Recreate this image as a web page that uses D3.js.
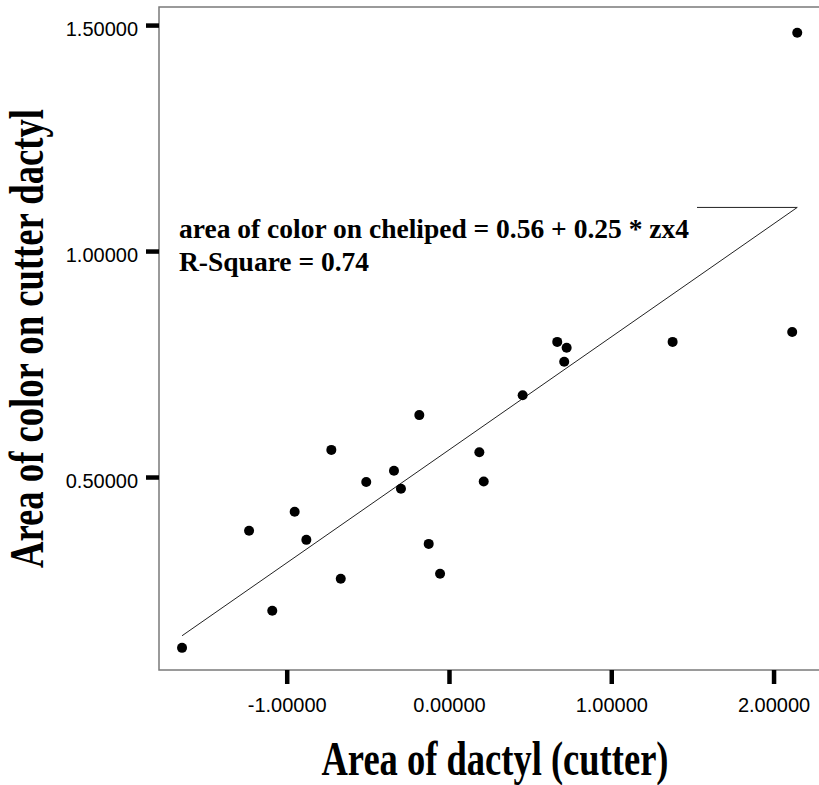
<!DOCTYPE html>
<html>
<head>
<meta charset="utf-8">
<script src="https://cdn.jsdelivr.net/npm/d3@7"></script>
<style>
  html, body { margin: 0; padding: 0; background: #fff; }
  svg { display: block; }
</style>
</head>
<body>
<svg id="chart" width="819" height="785"></svg>
<script>
// Standardised dactyl area (zx4) against area of colour on the cutter dactyl
const dactylArea = [-1.645, -1.089, -1.232, -0.951, -0.879, -0.725, -0.667, -0.510, -0.339, -0.296,
                    -0.183, -0.125, -0.055, 0.187, 0.214, 0.454, 0.667, 0.725, 0.710, 1.378, 2.115, 2.146];
const colorArea  = [0.122, 0.204, 0.381, 0.423, 0.361, 0.560, 0.275, 0.489, 0.514, 0.474,
                    0.637, 0.352, 0.286, 0.555, 0.490, 0.681, 0.799, 0.786, 0.755, 0.799, 0.821, 1.483];

// Linear fit reported in the annotation
const intercept = 0.56;
const slope = 0.25;
const rSquare = 0.74;

const xTicks = [-1, 0, 1, 2];
const yTicks = [0.5, 1.0, 1.5];
const xDomain = [-1.787, 2.354];
const yDomain = [0.073, 1.540];

const xTitle = "Area of dactyl (cutter)";
const yTitle = "Area of color on cutter dactyl";
const fitLabel = `area of color on cheliped = ${intercept.toFixed(2)} + ${slope.toFixed(2)} * zx4`;
const rsqLabel = `R-Square = ${rSquare.toFixed(2)}`;

const svg = d3.select("#chart");
const plot = { left: 159, right: 831, top: 7, bottom: 670 };

const x = d3.scaleLinear().domain(xDomain).range([plot.left, plot.right]);
const y = d3.scaleLinear().domain(yDomain).range([plot.bottom, plot.top]);
const fmt = v => v.toFixed(5);

const sans = "'Liberation Sans', Arial, sans-serif";
const serif = "'Liberation Serif', 'Times New Roman', serif";

// Plot frame
svg.append("rect")
  .attr("x", plot.left).attr("y", plot.top)
  .attr("width", plot.right - plot.left).attr("height", plot.bottom - plot.top)
  .attr("fill", "none").attr("stroke", "#7a7a7a").attr("stroke-width", 1.5);

// Axes: heavy short ticks outside the frame
const xAxis = svg.append("g")
  .attr("transform", `translate(0,${plot.bottom})`)
  .call(d3.axisBottom(x).tickValues(xTicks).tickFormat(fmt).tickSize(14).tickPadding(10));
const yAxis = svg.append("g")
  .attr("transform", `translate(${plot.left},0)`)
  .call(d3.axisLeft(y).tickValues(yTicks).tickFormat(fmt).tickSize(13).tickPadding(8));

[xAxis, yAxis].forEach(g => {
  g.select(".domain").remove();
  g.selectAll(".tick line").attr("stroke", "#000").attr("stroke-width", 4.5);
  g.selectAll(".tick text").attr("fill", "#000").style("font-family", sans).style("font-size", "20px");
});
yAxis.selectAll(".tick text").attr("dy", "0.5em");
xAxis.selectAll(".tick text").attr("dy", "0.9em");

// Regression line across the observed x range
const [xMin, xMax] = d3.extent(dactylArea);
const fit = v => intercept + slope * v;
svg.append("line")
  .attr("x1", x(xMin)).attr("y1", y(fit(xMin)))
  .attr("x2", x(xMax)).attr("y2", y(fit(xMax)))
  .attr("stroke", "#222").attr("stroke-width", 1);

// Data points
svg.append("g").selectAll("circle")
  .data(d3.zip(dactylArea, colorArea))
  .join("circle")
  .attr("cx", d => x(d[0]))
  .attr("cy", d => y(d[1]))
  .attr("r", 5)
  .attr("fill", "#000");

// Fit annotation with leader to the end of the line
const ann = svg.append("g")
  .style("font-family", serif).style("font-weight", "bold").style("font-size", "27.5px").attr("fill", "#000");
const line1 = ann.append("text").attr("x", 179).attr("y", 238).text(fitLabel);
ann.append("text").attr("x", 179).attr("y", 271).text(rsqLabel);
const textEnd = 179 + line1.node().getComputedTextLength();
svg.append("line")
  .attr("x1", textEnd + 8).attr("y1", y(fit(xMax)))
  .attr("x2", x(xMax)).attr("y2", y(fit(xMax)))
  .attr("stroke", "#222").attr("stroke-width", 1);

// Axis titles
svg.append("text")
  .attr("x", (plot.left + plot.right) / 2).attr("y", 775)
  .attr("text-anchor", "middle")
  .attr("textLength", 347).attr("lengthAdjust", "spacingAndGlyphs")
  .style("font-family", serif).style("font-weight", "bold").style("font-size", "48px")
  .text(xTitle);

svg.append("text")
  .attr("transform", `translate(43,${(plot.top + plot.bottom) / 2}) rotate(-90)`)
  .attr("text-anchor", "middle")
  .attr("textLength", 459).attr("lengthAdjust", "spacingAndGlyphs")
  .style("font-family", serif).style("font-weight", "bold").style("font-size", "48px")
  .text(yTitle);
</script>
</body>
</html>
